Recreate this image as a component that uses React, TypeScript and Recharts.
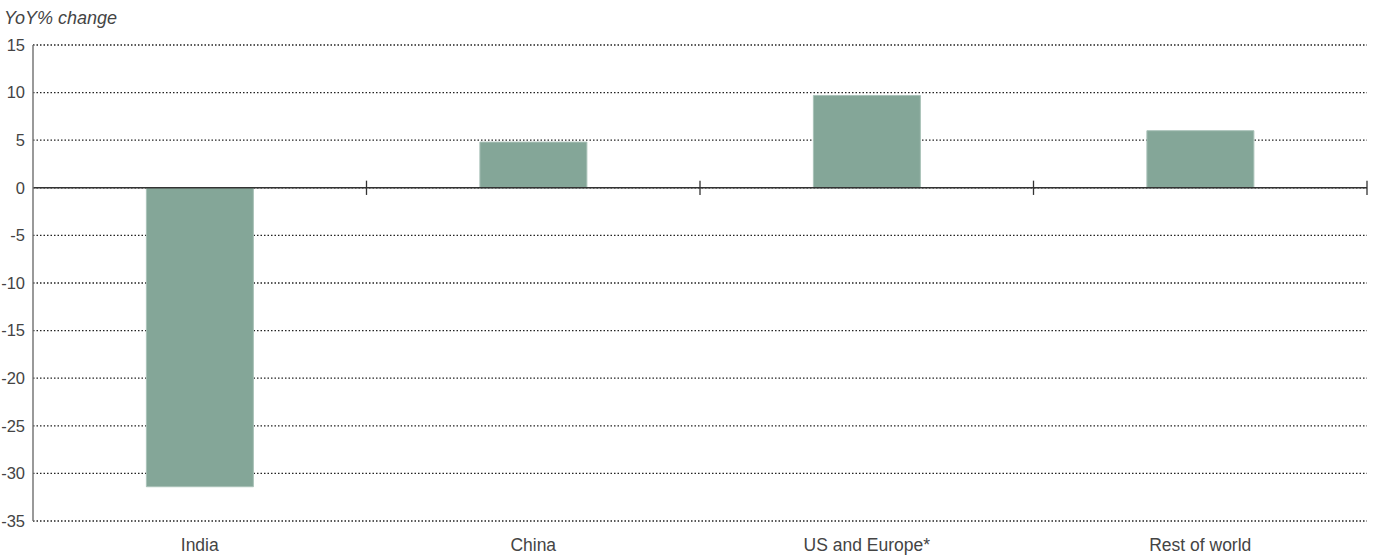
import React from 'react';
import { BarChart, Bar, XAxis, YAxis, CartesianGrid, ReferenceLine } from 'recharts';

const categories = ['India', 'China', 'US and Europe*', 'Rest of world'];
const values = [-31.4, 4.8, 9.7, 6.0];
const yTicks = [15, 10, 5, 0, -5, -10, -15, -20, -25, -30, -35];
const boundaries = [1, 2, 3, 4];
const yTitle = 'YoY% change';

const data = categories.map((c, i) => ({ name: c, value: values[i], pos: i + 0.5 }));

const FONT = '"Liberation Sans", Arial, sans-serif';
const TEXT = '#444444';

export default function App() {
  return (
    <div style={{ position: 'absolute', left: 0, top: 0, width: 1381, height: 555, background: '#fff', fontFamily: FONT }}>
      <div style={{ position: 'absolute', left: 4, top: 7, fontSize: 18, fontStyle: 'italic', color: TEXT, lineHeight: '22px' }}>
        {yTitle}
      </div>
      <BarChart
        width={1381}
        height={555}
        data={data}
        margin={{ top: 45, right: 14, bottom: 0, left: 0 }}
        barCategoryGap="34%"
      >
        <CartesianGrid vertical={false} stroke="#222" strokeDasharray="1.5 2" strokeWidth={1.3} />
        <XAxis
          dataKey="name"
          axisLine={false}
          tickLine={false}
          tickSize={0}
          tickMargin={18}
          height={34}
          tick={{ fill: TEXT, fontSize: 17.5, fontFamily: FONT }}
          interval={0}
        />
        <XAxis xAxisId="b" dataKey="pos" type="number" domain={[0, 4]} allowDataOverflow hide />
        <YAxis
          domain={[-35, 15]}
          ticks={yTicks}
          width={33}
          axisLine={{ stroke: '#777', strokeWidth: 1.5 }}
          tickLine={false}
          tickSize={0}
          tickMargin={8}
          tick={{ fill: TEXT, fontSize: 16.5, fontFamily: FONT }}
          interval={0}
        />
        <Bar dataKey="value" fill="#84A698" stroke="#A9C2B8" strokeWidth={1} isAnimationActive={false} />
        <ReferenceLine y={0} stroke="#333" strokeWidth={1.5} />
        {boundaries.map((b) => (
          <ReferenceLine
            key={b}
            xAxisId="b"
            segment={[{ x: b, y: -0.75 }, { x: b, y: 0.75 }]}
            stroke="#333"
            strokeWidth={1.3}
          />
        ))}
      </BarChart>
    </div>
  );
}
